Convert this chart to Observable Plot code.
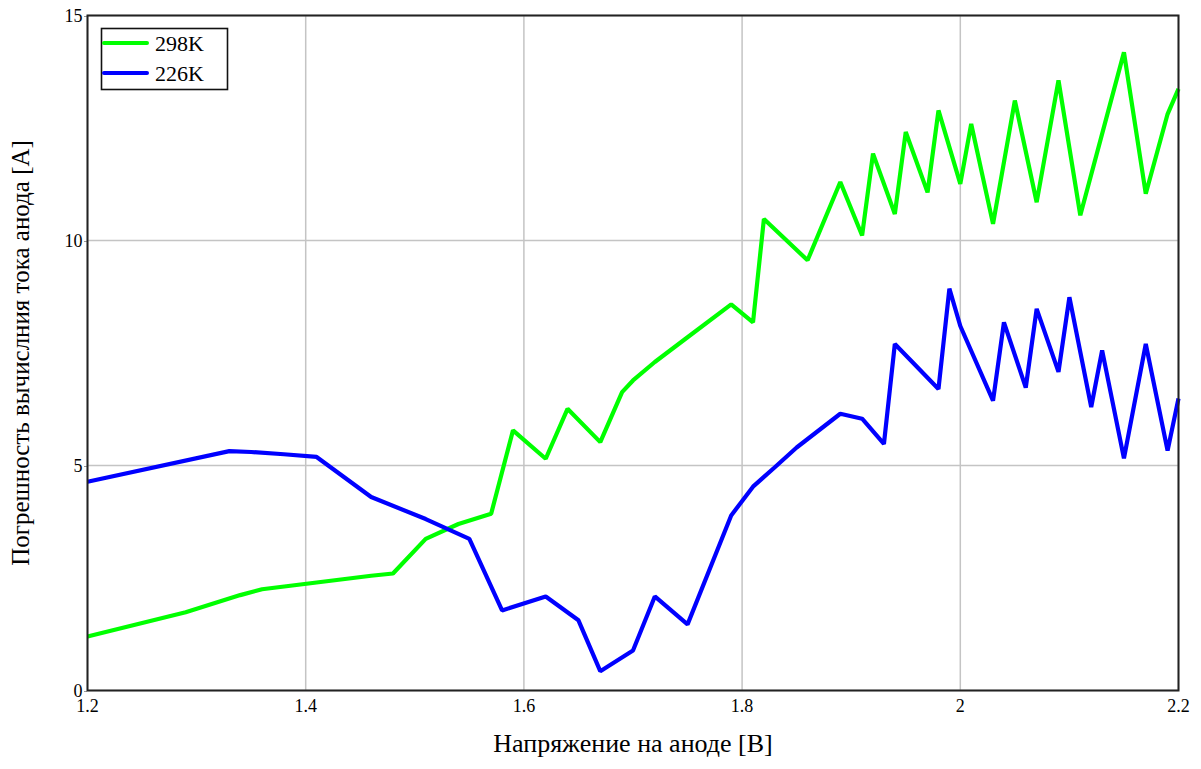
<!DOCTYPE html>
<html>
<head>
<meta charset="utf-8">
<script src="https://cdn.jsdelivr.net/npm/d3@7"></script>
<script src="https://cdn.jsdelivr.net/npm/@observablehq/plot@0.6"></script>
<style>
  body { margin: 0; background: #fff; }
  #chart svg { display: block; }
</style>
</head>
<body>
<div id="chart"></div>
<script>
// Anode voltage [V] and current-calculation error [A] for two temperatures
const voltage298 = [1.2, 1.29, 1.34, 1.36, 1.41, 1.46, 1.48, 1.51, 1.54, 1.57, 1.59, 1.62, 1.64, 1.67, 1.69, 1.7, 1.72, 1.75, 1.79, 1.81, 1.82, 1.86, 1.89, 1.91, 1.92, 1.94, 1.95, 1.97, 1.98, 2.0, 2.01, 2.03, 2.05, 2.07, 2.09, 2.11, 2.15, 2.17, 2.19, 2.2];
const error298   = [1.2, 1.74, 2.12, 2.25, 2.4, 2.55, 2.6, 3.37, 3.7, 3.93, 5.78, 5.15, 6.26, 5.52, 6.63, 6.89, 7.3, 7.85, 8.58, 8.18, 10.48, 9.56, 11.3, 10.11, 11.93, 10.59, 12.41, 11.07, 12.89, 11.26, 12.59, 10.37, 13.11, 10.85, 13.56, 10.56, 14.18, 11.04, 12.81, 13.37];

const voltage226 = [1.2, 1.33, 1.35, 1.38, 1.41, 1.46, 1.51, 1.55, 1.58, 1.62, 1.65, 1.67, 1.7, 1.72, 1.75, 1.79, 1.81, 1.83, 1.85, 1.89, 1.91, 1.93, 1.94, 1.98, 1.99, 2.0, 2.03, 2.04, 2.06, 2.07, 2.09, 2.1, 2.12, 2.13, 2.15, 2.17, 2.19, 2.2];
const error226   = [4.64, 5.32, 5.3, 5.25, 5.19, 4.3, 3.81, 3.37, 1.78, 2.09, 1.56, 0.43, 0.89, 2.09, 1.47, 3.89, 4.53, 4.96, 5.4, 6.15, 6.04, 5.48, 7.7, 6.7, 8.93, 8.1, 6.44, 8.18, 6.73, 8.48, 7.08, 8.74, 6.3, 7.56, 5.16, 7.7, 5.33, 6.49];

const seriesNames  = ["298K", "226K"];
const seriesColors = ["#00ff00", "#0000ff"];

const xTicks = [1.2, 1.4, 1.6, 1.8, 2, 2.2];
const yTicks = [0, 5, 10, 15];

const xTitle = "Напряжение на аноде [В]";
const yTitle = "Погрешность вычислния тока анода [А]";

// Long-format table for the line mark
const rows = [
  ...voltage298.map((v, i) => ({ series: seriesNames[0], voltage: v, error: error298[i] })),
  ...voltage226.map((v, i) => ({ series: seriesNames[1], voltage: v, error: error226[i] }))
];

const font = "'Liberation Serif', 'DejaVu Serif', serif";

const chart = Plot.plot({
  width: 1201,
  height: 769,
  marginLeft: 87,
  marginRight: 23,
  marginTop: 15,
  marginBottom: 79,
  style: { fontFamily: font, fontSize: "18px", background: "#fff", color: "#000" },
  x: { domain: [1.2, 2.2] },
  y: { domain: [0, 15] },
  color: { domain: seriesNames, range: seriesColors },
  marks: [
    Plot.gridX(xTicks, { stroke: "#c4c4c4", strokeOpacity: 1, strokeWidth: 1.5 }),
    Plot.gridY(yTicks, { stroke: "#c4c4c4", strokeOpacity: 1, strokeWidth: 1.5 }),
    Plot.axisX(xTicks, { tickSize: 0, tickPadding: 9, label: null, tickFormat: d => String(d), fontSize: 18 }),
    Plot.axisY(yTicks, { tickSize: 3, tickPadding: 2, label: null, tickFormat: d => String(d), fontSize: 18, dy: 1, stroke: "#999" }),
    Plot.line(rows, { x: "voltage", y: "error", z: "series", stroke: "series", strokeWidth: 4.2, strokeLinejoin: "miter", strokeLinecap: "butt" }),
    Plot.frame({ stroke: "#222", strokeWidth: 2 }),
    Plot.text([xTitle], { frameAnchor: "bottom", dy: 61, fontSize: 26, fill: "#000", textAnchor: "middle" }),
    Plot.text([yTitle], { frameAnchor: "left", dx: -67, rotate: -90, fontSize: 25, fill: "#000", textAnchor: "middle" })
  ]
});

document.getElementById("chart").appendChild(chart);

const svg = d3.select(chart);

// Tick labels in a larger serif face
svg.selectAll("g[aria-label*='tick label'] text")
  .style("font-size", "18px");

// Legend box in the upper-left corner of the frame
const legend = svg.append("g")
  .attr("font-family", font)
  .attr("font-size", 22)
  .attr("text-anchor", "start");
legend.append("rect")
  .attr("x", 101.5).attr("y", 28.5).attr("width", 126).attr("height", 61)
  .attr("fill", "#fff").attr("stroke", "#111").attr("stroke-width", 1.6);
seriesNames.forEach((name, i) => {
  const y = 43 + i * 30;
  legend.append("line")
    .attr("x1", 104).attr("x2", 147).attr("y1", y).attr("y2", y)
    .attr("stroke", seriesColors[i]).attr("stroke-width", 4).attr("stroke-linecap", "round");
  legend.append("text")
    .attr("x", 155).attr("y", y + 7.5).attr("fill", "#000").attr("text-anchor", "start").text(name);
});
</script>
</body>
</html>
